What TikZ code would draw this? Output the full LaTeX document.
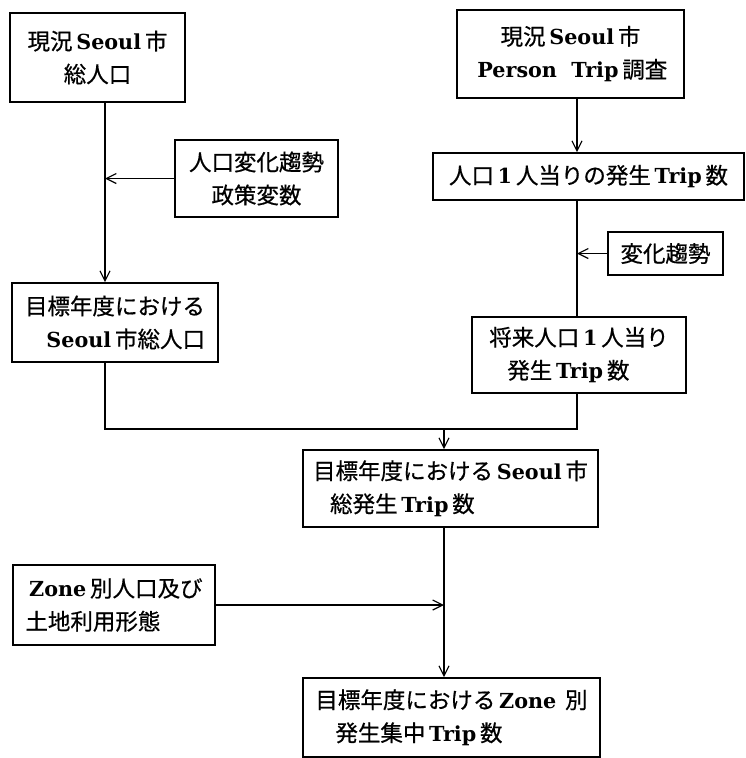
\documentclass[tikz,border=0pt]{standalone}
\usepackage{fontspec}
\setmainfont{Noto Sans CJK JP}[FakeBold=0.6]
\newfontfamily\latfont{DejaVu Serif}[Scale=0.92]
\newcommand\lt[1]{\,{\latfont\bfseries #1}\,}
\usetikzlibrary{arrows.meta}
\begin{document}
\begin{tikzpicture}[x=1pt,y=-1pt,
  box/.style={draw, line width=1.6pt, inner sep=0pt, font=\fontsize{22.5}{33}\selectfont},
  conn/.style={line width=1.2pt},
  arr/.style={conn, -{Straight Barb[length=10pt,width=10pt,line width=1.2pt]}}]
\useasboundingbox (0,0) rectangle (745,758);
\fill[white] (0,0) rectangle (745,758);

\node[box, minimum width=175pt, minimum height=89pt, align=center] (b1) at (97.5,57.5)
  {現況\lt{Seoul}市\\総人口};
\node[box, minimum width=163pt, minimum height=77pt, align=center] (b2) at (256.5,178.5)
  {人口変化趨勢\\政策変数};
\node[box, minimum width=206pt, minimum height=79pt, align=right] (b3) at (115,322.5)
  {目標年度における\\\lt{Seoul}市総人口};
\node[box, minimum width=227pt, minimum height=88pt, align=center] (b4) at (570.5,54)
  {現況\lt{Seoul}市\\\lt{Person\ \ Trip}調査};
\node[box, minimum width=311pt, minimum height=47pt] (b5) at (588.5,176.5)
  {人口\lt{1}人当りの発生\lt{Trip}数};
\node[box, minimum width=115pt, minimum height=43pt] (b6) at (665.5,253.5)
  {変化趨勢};
\node[box, minimum width=214pt, minimum height=76pt, align=left] (b7) at (579,355)
  {将来人口\lt{1}人当り\\\hspace*{18pt}発生\lt{Trip}数};
\node[box, minimum width=295pt, minimum height=77pt, align=left] (b8) at (450.5,488.5)
  {目標年度における\lt{Seoul}市\\\hspace*{17pt}総発生\lt{Trip}数};
\node[box, minimum width=202pt, minimum height=80pt, align=left] (b10) at (114,605)
  {\lt{Zone}別人口及び\\土地利用形態};
\node[box, minimum width=297pt, minimum height=79pt, align=left] (b9) at (451.5,717.5)
  {目標年度における\lt{Zone}\ 別\\\hspace*{20pt}発生集中\lt{Trip}数};

\coordinate (v1) at (105,0);
\coordinate (v2) at (577,0);
\coordinate (v3) at (444,0);
\coordinate (j) at (444,429);

\draw[arr] (b1.south -| v1) -- (b3.north -| v1);
\draw[arr] (b2.west) -- (b2.west -| v1);
\draw[arr] (b4.south -| v2) -- (b5.north -| v2);
\draw[conn] (b5.south -| v2) -- (b7.north -| v2);
\draw[arr] (b6.west) -- (b6.west -| v2);
\draw[conn] (b3.south -| v1) |- (j);
\draw[conn] (b7.south -| v2) |- (j);
\draw[arr] (j) -- (b8.north -| j);
\draw[arr] (b8.south -| v3) -- (b9.north -| v3);
\draw[arr] (b10.east) -- (b10.east -| v3);
\end{tikzpicture}
\end{document}
